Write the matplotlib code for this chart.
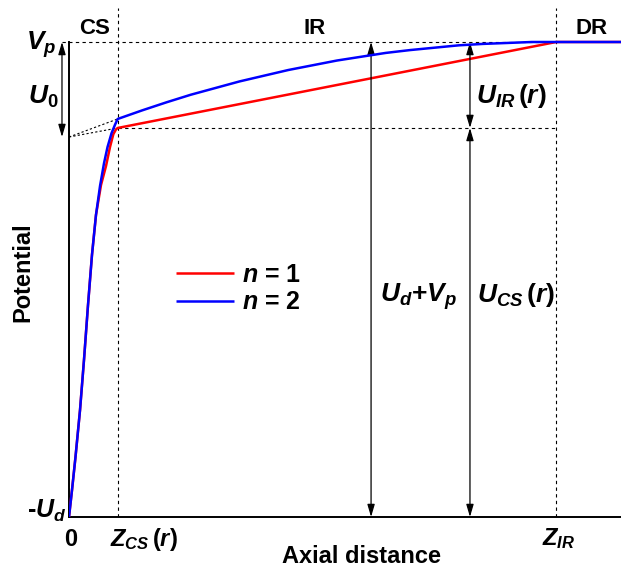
import matplotlib
matplotlib.use("Agg")
import matplotlib.pyplot as plt

plt.rcParams['font.family'] = ['Liberation Sans', 'DejaVu Sans']
plt.rcParams['font.weight'] = 'bold'
plt.rcParams['mathtext.fontset'] = 'custom'
plt.rcParams['mathtext.it'] = 'Liberation Sans:italic:bold'
plt.rcParams['mathtext.rm'] = 'Liberation Sans:bold'
plt.rcParams['mathtext.bf'] = 'Liberation Sans:bold'
plt.rcParams['mathtext.sf'] = 'Liberation Sans:bold'

# ---- data (normalised: -U_d = 0, V_p = 1, Z_CS = 1, Z_IR = 10) ----
z_cs = 1.0
z_ir = 10.0
x_end = 11.33
v_p = 1.0
u0_level = 0.80
red_knee = 0.819
blue_knee = 0.838

red_x = [0, 0.062, 0.133, 0.226, 0.308, 0.390, 0.472, 0.554, 0.657, 0.760,
         0.842, 0.910, 0.965, 1.0, 10.0, 11.33]
red_y = [0, 0.057, 0.126, 0.225, 0.331, 0.446, 0.552, 0.636, 0.699, 0.739,
         0.779, 0.806, 0.816, 0.819, 1.0, 1.0]

blue_x = [0, 0.062, 0.133, 0.226, 0.308, 0.390, 0.472, 0.554, 0.637, 0.719,
          0.791, 0.873, 0.945, 1.0, 1.5, 2.0, 2.5, 3.0, 3.5, 4.0, 4.5, 5.0,
          5.5, 6.0, 6.5, 7.0, 7.5, 8.0, 8.5, 9.0, 9.5, 10.0, 11.33]
blue_y = [0, 0.057, 0.126, 0.225, 0.331, 0.446, 0.552, 0.636, 0.697, 0.745,
          0.779, 0.808, 0.826, 0.838, 0.856, 0.873, 0.889, 0.903, 0.917, 0.929,
          0.941, 0.951, 0.961, 0.969, 0.977, 0.983, 0.988, 0.993, 0.996, 0.998,
          1.0, 1.0, 1.0]

series_labels = [r'$n$ = 1', r'$n$ = 2']
region_labels = ['CS', 'IR', 'DR']
arrow_x1 = 6.2
arrow_x2 = 8.23
arrow_x0 = -0.144

fig = plt.figure(figsize=(6.21, 5.68), dpi=100)
ax = fig.add_axes([69/621, 51/568, 1 - 69/621, (517 - 8)/568])
ax.set_xlim(0, x_end)
ax.set_ylim(0, (517 - 8)/475)

l1, = ax.plot(red_x, red_y, color='#ff0000', lw=1.8, solid_capstyle='butt',
              solid_joinstyle='round', zorder=3)
l2, = ax.plot(blue_x, blue_y, color='#0000ff', lw=1.8, solid_capstyle='butt',
              solid_joinstyle='round', zorder=4)

dash = dict(color='k', lw=0.8, linestyle=(0, (3, 3)), zorder=2)
ymax = ax.get_ylim()[1]
ax.plot([z_cs, z_cs], [0, ymax], **dash)
ax.plot([z_ir, z_ir], [0, ymax], **dash)
ax.plot([arrow_x0, z_ir], [v_p, v_p], clip_on=False, **dash)
ax.plot([z_cs, z_ir], [red_knee, red_knee], **dash)
dot = dict(color='k', lw=0.8, linestyle=(0, (2, 2)), zorder=2)
ax.plot([0, z_cs], [u0_level, red_knee], **dot)
ax.plot([0, z_cs], [u0_level, blue_knee], **dot)

ap = dict(arrowstyle='<|-|>,head_length=0.75,head_width=0.22', lw=0.9, color='k',
          shrinkA=0, shrinkB=0, mutation_scale=10)
ax.annotate('', xy=(arrow_x1, v_p), xytext=(arrow_x1, 0), arrowprops=ap)
ax.annotate('', xy=(arrow_x2, v_p), xytext=(arrow_x2, red_knee), arrowprops=ap)
ax.annotate('', xy=(arrow_x2, red_knee), xytext=(arrow_x2, 0), arrowprops=ap)
ax.annotate('', xy=(arrow_x0, v_p), xytext=(arrow_x0, u0_level), arrowprops=ap,
            annotation_clip=False)

for s in ['top', 'right']:
    ax.spines[s].set_visible(False)
ax.spines['left'].set_bounds(0, v_p)
ax.spines['left'].set_linewidth(1.4)
ax.spines['bottom'].set_linewidth(1.4)
ax.set_xticks([])
ax.set_yticks([])

# region labels
for lab, xx in zip(region_labels, [0.534, 5.04, 10.73]):
    ax.text(xx, 1.017, lab, ha='center', va='baseline', fontsize=16, fontweight='bold')

# axis value labels
ax.text(-0.883, 0.983, r'$V_p$', ha='left', va='baseline', fontsize=19)
ax.text(-0.842, 0.869, r'$U_0$', ha='left', va='baseline', fontsize=19)
ax.text(-0.862, -0.002, r'-$U_d$', ha='left', va='baseline', fontsize=18, clip_on=False)
ax.text(0.035, -0.061, '0', ha='center', va='baseline', fontsize=17)
ax.text(0.842, -0.061, r'$Z_{CS}\,(r)$', ha='left', va='baseline', fontsize=17)
ax.text(9.71, -0.059, r'$Z_{IR}$', ha='left', va='baseline', fontsize=17)
ax.text(6.0, -0.097, 'Axial distance', ha='center', va='baseline', fontsize=17)
ax.text(-0.94, 0.515, 'Potential', ha='center', va='center', rotation=90, fontsize=17)

# arrow labels
ax.text(6.386, 0.453, r'$U_d{+}V_p$', ha='left', va='baseline', fontsize=19)
ax.text(8.38, 0.453, r'$U_{CS}\,(r)$', ha='left', va='baseline', fontsize=19)
ax.text(8.36, 0.872, r'$U_{IR}\,(r)$', ha='left', va='baseline', fontsize=19)

ax.legend([l1, l2], series_labels, loc='upper left', bbox_to_anchor=(0.194, 0.50),
          frameon=False, fontsize=18, handlelength=2.3, handletextpad=0.35,
          labelspacing=0.15, borderpad=0, borderaxespad=0)

fig.savefig('out.png', dpi=100)
